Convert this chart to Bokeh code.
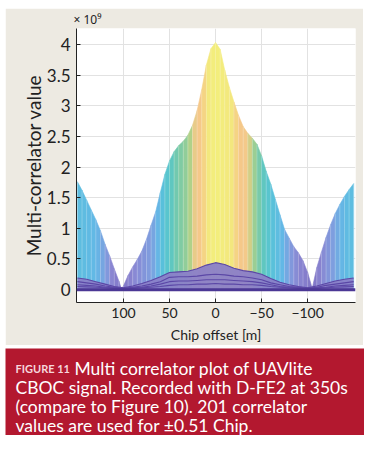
from bokeh.plotting import figure
from bokeh.models import ColumnDataSource, Range1d, FixedTicker, LinearColorMapper, Span
from bokeh.layouts import column
from bokeh.embed import file_html
from bokeh.resources import INLINE
from bokeh.core.properties import value

# ---------------- data (values in units of 1e9) ----------------
chip_offset_m = [150, 145, 140, 135, 130, 125, 120, 115, 110, 105, 102,
                 100, 95, 90, 85, 80, 75, 70, 65, 60, 55,
                 50, 45, 40, 35, 30, 25, 20, 15, 10, 5,
                 0, -5, -10, -15, -20, -25, -30, -35, -40, -45,
                 -50, -55, -60, -65, -70, -75, -80, -85, -90, -95,
                 -100, -105, -110, -115, -120, -125, -130, -135, -140, -145, -150]
corr_peak = [1.76, 1.62, 1.46, 1.30, 1.14, 0.96, 0.74, 0.55, 0.34, 0.14, 0.00,
             0.06, 0.23, 0.37, 0.49, 0.63, 0.82, 1.05, 1.27, 1.58, 1.88,
             2.10, 2.25, 2.35, 2.42, 2.52, 2.68, 2.92, 3.26, 3.66, 3.93,
             4.03, 3.92, 3.58, 3.30, 3.06, 2.84, 2.66, 2.55, 2.47, 2.37,
             2.18, 1.93, 1.72, 1.47, 1.22, 0.98, 0.84, 0.70, 0.60, 0.47,
             0.28, 0.02, 0.36, 0.61, 0.85, 1.06, 1.24, 1.39, 1.52, 1.63, 1.73]
color_level = [1.75, 1.75, 1.70, 1.65, 1.60, 1.45, 1.20, 1.00, 0.60, 0.30, 0.10,
               0.20, 0.50, 0.80, 0.90, 1.00, 1.10, 1.20, 1.40, 1.75, 2.00,
               2.20, 2.35, 2.45, 2.50, 2.60, 2.80, 3.10, 3.20, 3.60, 3.80,
               4.00, 3.90, 3.80, 3.70, 3.60, 3.20, 3.10, 3.00, 2.70, 2.50,
               2.35, 2.20, 2.00, 1.80, 1.70, 1.50, 1.20, 1.00, 0.80, 0.60,
               0.30, 0.10, 0.40, 0.80, 1.00, 1.10, 1.30, 1.50, 1.65, 1.75, 1.75]

lower_offset_m = [150, 140, 130, 120, 110, 100, 90, 80, 70, 60, 50, 40, 30, 20, 10, 0,
                  -10, -20, -30, -40, -50, -60, -70, -80, -90, -100, -110, -120, -130, -140, -150]
lower_1 = [0.19, 0.17, 0.13, 0.09, 0.05, 0.03, 0.06, 0.10, 0.15, 0.21, 0.28, 0.29, 0.30, 0.34, 0.40, 0.44,
           0.41, 0.35, 0.31, 0.29, 0.25, 0.18, 0.12, 0.08, 0.05, 0.03, 0.06, 0.10, 0.14, 0.17, 0.19]
lower_2 = [0.13, 0.11, 0.09, 0.06, 0.04, 0.02, 0.04, 0.06, 0.09, 0.13, 0.20, 0.21, 0.21, 0.22, 0.24, 0.25,
           0.24, 0.22, 0.21, 0.19, 0.16, 0.11, 0.08, 0.05, 0.04, 0.02, 0.04, 0.07, 0.09, 0.11, 0.13]
lower_3 = [0.08, 0.07, 0.06, 0.04, 0.03, 0.02, 0.03, 0.04, 0.06, 0.09, 0.13, 0.14, 0.14, 0.15, 0.16, 0.16,
           0.16, 0.15, 0.14, 0.13, 0.11, 0.08, 0.05, 0.04, 0.03, 0.02, 0.03, 0.04, 0.06, 0.07, 0.08]
lower_4 = [0.05, 0.045, 0.04, 0.03, 0.02, 0.01, 0.02, 0.03, 0.04, 0.05, 0.07, 0.08, 0.08, 0.09, 0.09, 0.10,
           0.09, 0.09, 0.08, 0.08, 0.07, 0.05, 0.04, 0.03, 0.02, 0.01, 0.02, 0.03, 0.04, 0.045, 0.05]

x_tick_values = [100, 50, 0, -50, -100]
x_tick_labels = ["100", "50", "0", "\u221250", "\u2212100"]
y_tick_values = [0, 0.5, 1, 1.5, 2, 2.5, 3, 3.5, 4]
y_tick_labels = ["0", "0.5", "1", "1.5", "2", "2.5", "3", "3.5", "4"]
y_scale_label = "\u00d7 10\u2079"

caption_tag = "FIGURE 11"
caption_lines = ["Multi correlator plot of UAVlite",
                 "CBOC signal. Recorded with D-FE2 at 350s",
                 "(compare to Figure 10). 201 correlator",
                 "values are used for \u00b10.51 Chip."]

# ---------------- styling ----------------
FONT = "Lato"
BEIGE = "#EDEAE2"
RED = "#B3182F"
INK = "#222222"

stops = [(0.0, (127, 114, 196)), (0.8, (138, 134, 210)), (1.2, (126, 158, 223)),
         (1.6, (99, 184, 230)), (2.0, (85, 196, 214)), (2.3, (96, 199, 190)),
         (2.5, (132, 203, 160)), (2.75, (188, 210, 131)), (3.0, (243, 201, 138)),
         (3.3, (246, 200, 136)), (3.55, (243, 228, 126)), (4.0, (243, 239, 124))]


def make_palette(n=256):
    pal = []
    for k in range(n):
        v = 4.0 * k / (n - 1)
        for (a, ca), (b, cb) in zip(stops[:-1], stops[1:]):
            if a <= v <= b:
                t = (v - a) / (b - a)
                c = [int(round(ca[i] + t * (cb[i] - ca[i]))) for i in range(3)]
                pal.append("#%02x%02x%02x" % tuple(c))
                break
    return pal


mapper = LinearColorMapper(palette=make_palette(), low=0, high=4)

xs, ys, lv = [], [], []
for i in range(len(chip_offset_m) - 1):
    xs.append([chip_offset_m[i], chip_offset_m[i + 1], chip_offset_m[i + 1], chip_offset_m[i]])
    ys.append([0, 0, corr_peak[i + 1], corr_peak[i]])
    lv.append((color_level[i] + color_level[i + 1]) / 2)
cols = ColumnDataSource(dict(xs=xs, ys=ys, lv=lv))

p = figure(width=358, height=337, x_range=Range1d(151, -152), y_range=Range1d(-0.21, 4.26),
           output_backend="svg", toolbar_location=None,
           min_border_left=71, min_border_right=8, min_border_top=19, min_border_bottom=41,
           background_fill_color="white", border_fill_color=BEIGE, outline_line_color=None,
           title=y_scale_label)
p.frame_align = False
p.title.text_font = "Noto Sans"
p.title.text_font_size = "12px"
p.title.text_font_style = "normal"
p.title.text_color = INK
p.title.align = "left"
p.title.offset = -3
p.title.standoff = 1

p.patches("xs", "ys", source=cols, fill_color={"field": "lv", "transform": mapper},
          line_color={"field": "lv", "transform": mapper}, line_width=0.6)
p.segment(x0=chip_offset_m, y0=[0] * len(chip_offset_m), x1=chip_offset_m, y1=corr_peak,
          line_color="white", line_alpha=0.3, line_width=0.8)

p.varea(x=lower_offset_m, y1=[0] * len(lower_offset_m), y2=lower_1, fill_color="#8A7FC8", fill_alpha=0.95)
for ser in (lower_1, lower_2, lower_3, lower_4):
    p.line(lower_offset_m, ser, line_color="#5B47A6", line_width=1.1)
p.add_layout(Span(location=0, dimension="width", line_color="#4B3795", line_width=3))

xt = FixedTicker(ticks=x_tick_values)
yt = FixedTicker(ticks=y_tick_values)
p.xaxis.ticker = xt
p.yaxis.ticker = yt
p.xgrid.ticker = xt
p.ygrid.ticker = yt
p.grid.grid_line_color = "#E2E2E2"
p.xaxis.major_label_overrides = dict(zip(x_tick_values, x_tick_labels))
p.yaxis.major_label_overrides = dict(zip(y_tick_values, y_tick_labels))

for ax in (p.xaxis[0], p.yaxis[0]):
    ax.axis_line_color = INK
    ax.major_tick_line_color = INK
    ax.major_tick_in = 4
    ax.major_tick_out = 0
    ax.minor_tick_line_color = None
    ax.major_label_text_font = FONT
    ax.major_label_text_color = INK
    ax.axis_label_text_font = FONT
    ax.axis_label_text_color = INK
    ax.axis_label_text_font_style = "normal"

p.yaxis.major_label_text_font_size = "17px"
p.yaxis.major_label_standoff = 6
p.yaxis.axis_label = "Multi-correlator value"
p.yaxis.axis_label_text_font_size = "19px"
p.yaxis.axis_label_standoff = -1

p.xaxis.major_label_text_font_size = "14px"
p.xaxis.major_label_standoff = 5
p.xaxis.axis_label = "Chip offset [m]"
p.xaxis.axis_label_text_font_size = "14px"
p.xaxis.axis_label_standoff = 5

# ---------------- caption ----------------
c = figure(width=359, height=87, x_range=Range1d(0, 359), y_range=Range1d(87, 0),
           output_backend="svg", toolbar_location=None, x_axis_type=None, y_axis_type=None,
           min_border=0, background_fill_color=RED, border_fill_color=RED, outline_line_color=None)
c.frame_align = False
c.grid.visible = False
c.text(x=[10], y=[20], text=[caption_tag], text_font=value(FONT), text_font_style="bold",
       text_font_size="11px", text_color="#F6D6DB", text_baseline="alphabetic")
c.text(x=[69, 10, 10, 10], y=[20, 39, 58, 77], text=caption_lines, text_font=value(FONT),
       text_font_size="17.5px", text_color="white", text_baseline="alphabetic")

layout = column(p, c, spacing=3, margin=(8, 0, 0, 5))
open("out.html", "w").write(file_html(layout, INLINE))
